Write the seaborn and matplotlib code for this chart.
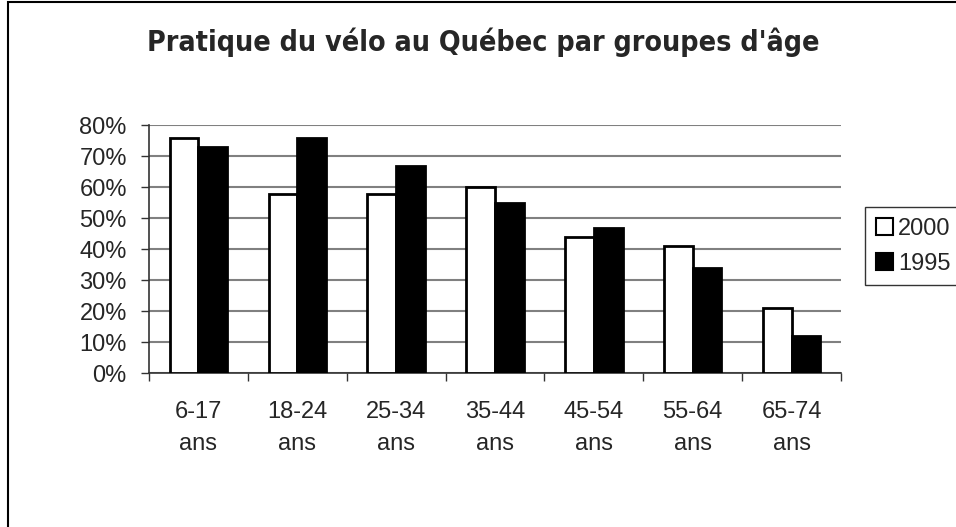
import matplotlib
matplotlib.use("Agg")
import matplotlib.pyplot as plt
import seaborn as sns
import pandas as pd
from matplotlib.patches import Rectangle
from matplotlib.ticker import PercentFormatter, FixedLocator

categories = ["6-17\nans", "18-24\nans", "25-34\nans", "35-44\nans", "45-54\nans", "55-64\nans", "65-74\nans"]
years = ["2000", "1995"]
values_2000 = [0.76, 0.58, 0.58, 0.60, 0.44, 0.41, 0.21]
values_1995 = [0.73, 0.76, 0.67, 0.55, 0.47, 0.34, 0.12]
title = "Pratique du vélo au Québec par groupes d'âge"

df = pd.DataFrame({
    "groupe": categories * 2,
    "annee": [years[0]] * len(categories) + [years[1]] * len(categories),
    "valeur": values_2000 + values_1995,
})

sns.set_style("white")
plt.rcParams["font.family"] = ["Liberation Sans", "DejaVu Sans"]

fig = plt.figure(figsize=(9.56, 5.27), dpi=100)
ax = fig.add_axes([149 / 956, 1 - 373.3 / 527, (841 - 149) / 956, (373.3 - 125.3) / 527])

sns.barplot(data=df, x="groupe", y="valeur", hue="annee", hue_order=years,
            palette={"2000": "white", "1995": "black"}, edgecolor="black",
            linewidth=2, width=0.58, gap=0, ax=ax, legend=True, zorder=3)

ax.set_ylim(0, 0.8)
ax.set_xlim(-0.5, len(categories) - 0.5)
ax.set_yticks([i / 10 for i in range(9)])
ax.yaxis.set_major_formatter(PercentFormatter(1.0, decimals=0))
ax.yaxis.grid(True, color="#808080", linewidth=1.5, zorder=0)
ax.set_axisbelow(True)
ax.set_xlabel("")
ax.set_ylabel("")

for s in ["top", "right"]:
    ax.spines[s].set_visible(False)
for s in ["left", "bottom"]:
    ax.spines[s].set_color("#333333")
    ax.spines[s].set_linewidth(1.2)

ax.tick_params(axis="y", which="major", direction="out", length=6, width=1, color="#333333",
               labelsize=17, pad=10, left=True)
ax.tick_params(axis="x", which="major", length=0, labelsize=17, pad=20)
ax.xaxis.set_minor_locator(FixedLocator([i - 0.5 for i in range(len(categories) + 1)]))
ax.tick_params(axis="x", which="minor", direction="out", length=6, width=1, color="#333333", bottom=True)
for lbl in ax.get_xticklabels():
    lbl.set_linespacing(1.6)

leg = ax.legend(loc="upper left", bbox_to_anchor=(865 / 956, 1 - 207 / 527),
                bbox_transform=fig.transFigure, frameon=True, fancybox=False,
                edgecolor="black", fontsize=17, handlelength=0.75, handleheight=0.75,
                handletextpad=0.2, borderpad=0.45, labelspacing=0.55, borderaxespad=0)
leg.get_frame().set_linewidth(1.0)
for h in leg.legend_handles:
    h.set_edgecolor("black")
    h.set_linewidth(1.5)

t = fig.text(483 / 956, 1 - 51 / 527, title, ha="center", va="baseline",
             fontsize=22, fontweight="bold", family=["DejaVu Sans"], fontstretch="condensed")
fig.canvas.draw()
w = t.get_window_extent().width
t.set_fontsize(22 * 670 / w)

fig.add_artist(Rectangle((8 / 956, -0.1), 1.2, 1 - 2 / 527 + 0.1, transform=fig.transFigure,
                         fill=False, edgecolor="black", linewidth=1.5, clip_on=False))

fig.savefig("out.png", dpi=100)
